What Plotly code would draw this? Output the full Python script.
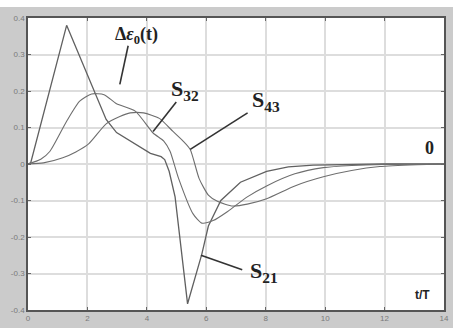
import plotly.graph_objects as go

# Time axis (t/T) and the three responses
t_s21 = [0, 0.09, 1.3, 2.63, 2.98, 4.12, 4.48, 4.6, 4.75, 4.95, 5.37, 5.85, 6.07, 6.49, 7.15, 8.03, 8.76, 9.6, 12, 14]
s21 = [0, 0.003, 0.38, 0.122, 0.086, 0.029, 0.02, 0.012, -0.02, -0.09, -0.383, -0.247, -0.17, -0.1, -0.05, -0.02, -0.008, -0.003, 0, 0]

t_s32 = [0, 0.43, 0.74, 1.3, 1.74, 2.14, 2.56, 2.98, 3.61, 4.21, 4.57, 4.78, 5.07, 5.55, 5.85, 6.23, 6.72, 7.38, 8.03, 8.98, 9.94, 10.89, 12, 14]
s32 = [0, 0.013, 0.035, 0.117, 0.172, 0.192, 0.19, 0.165, 0.145, 0.085, 0.063, 0.035, -0.04, -0.136, -0.162, -0.155, -0.13, -0.09, -0.06, -0.027, -0.01, -0.004, -0.001, 0]

t_s43 = [0, 0.52, 1.17, 1.61, 2.04, 2.63, 3.09, 3.44, 3.89, 4.42, 4.87, 5.22, 5.46, 5.76, 6.07, 6.39, 6.89, 7.38, 8.03, 8.98, 9.94, 10.89, 11.84, 13.1, 14]
s43 = [0, 0.003, 0.017, 0.033, 0.055, 0.11, 0.13, 0.14, 0.14, 0.125, 0.09, 0.063, 0.04, -0.04, -0.085, -0.103, -0.115, -0.11, -0.095, -0.06, -0.035, -0.018, -0.007, -0.002, 0]

x_ticks = [0, 2, 4, 6, 8, 10, 12, 14]
y_ticks = [0.4, 0.3, 0.2, 0.1, 0, -0.1, -0.2, -0.3, -0.4]
y_tick_text = ["0.4", "0.3", "0.2", "0.1", "0", "-0.1", "-0.2", "-0.3", "-0.4"]

curve_color = "#6e6e6e"
ink = "#222222"

fig = go.Figure()
fig.add_trace(go.Scatter(x=t_s21, y=s21, mode="lines",
                         line=dict(color="#606060", width=1.3)))
fig.add_trace(go.Scatter(x=t_s32, y=s32, mode="lines",
                         line=dict(color=curve_color, width=1.1, shape="spline", smoothing=0.6)))
fig.add_trace(go.Scatter(x=t_s43, y=s43, mode="lines",
                         line=dict(color=curve_color, width=1.1, shape="spline", smoothing=0.6)))

# Pointer lines from the labels to the curves
pointers = [
    (3.37, 0.324, 3.09, 0.218),   # Δε0(t)
    (4.99, 0.17, 4.21, 0.089),    # S32
    (7.39, 0.14, 5.46, 0.04),     # S43
    (7.21, -0.29, 5.82, -0.25),   # S21
]
for x0, y0, x1, y1 in pointers:
    fig.add_shape(type="line", x0=x0, y0=y0, x1=x1, y1=y1, xref="x", yref="y",
                  line=dict(color="#333333", width=1.6))

serif = "Liberation Serif"
labels = [
    (3.65, 0.351, "<b>Δ<i>ε</i><sub>0</sub>(t)</b>", 18, serif),
    (5.28, 0.203, "<b>S<sub>32</sub></b>", 22, serif),
    (8.0, 0.173, "<b>S<sub>43</sub></b>", 22, serif),
    (7.93, -0.297, "<b>S<sub>21</sub></b>", 22, serif),
    (13.5, 0.043, "<b>0</b>", 18, serif),
    (13.28, -0.359, "<b>t/T</b>", 12, "Liberation Sans"),
]
for x, y, txt, size, fam in labels:
    fig.add_annotation(x=x, y=y, xref="x", yref="y", text=txt, showarrow=False,
                       font=dict(family=fam, size=size, color=ink))

# Light strip above the gray frame
fig.add_shape(type="rect", xref="paper", yref="paper", x0=-0.2, x1=1.2,
              y0=1.0 + 11 / 292, y1=1.2, fillcolor="white", line_width=0, layer="below")

fig.update_layout(
    width=453, height=328,
    margin=dict(l=28, r=4, t=18, b=18),
    paper_bgcolor="#cbcbcb",
    plot_bgcolor="white",
    showlegend=False,
    font=dict(family="Liberation Sans", size=8, color="#7a7a7a"),
)
fig.update_xaxes(range=[0, 14], tickvals=x_ticks, ticks="inside", ticklen=3,
                 tickcolor="#666", showgrid=True, gridcolor="#dddddd", gridwidth=2,
                 showline=True, linecolor="#555", linewidth=1.5, mirror="ticks",
                 zeroline=False, tickfont=dict(size=8, color="#7a7a7a"))
fig.update_yaxes(range=[-0.4, 0.4], tickvals=y_ticks, ticktext=y_tick_text,
                 ticks="inside", ticklen=3, tickcolor="#666", showgrid=True,
                 gridcolor="#dddddd", gridwidth=2, showline=True, linecolor="#555",
                 linewidth=1.5, mirror="ticks", zeroline=False,
                 tickfont=dict(size=8, color="#7a7a7a"))

fig.write_html("out.html")
